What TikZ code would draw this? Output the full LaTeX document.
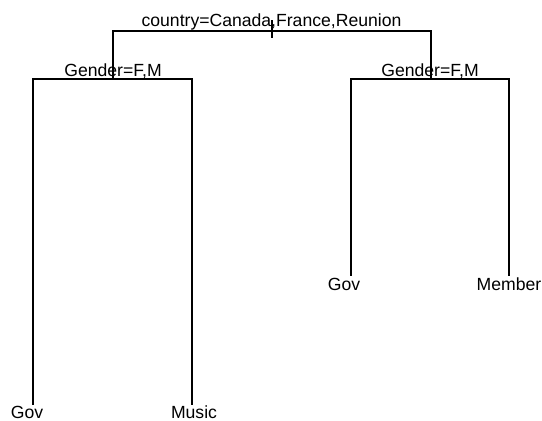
\documentclass[tikz,border=0pt]{standalone}
\usepackage{fontspec}
\setmainfont{Liberation Sans}
\begin{document}
\begin{tikzpicture}[x=1pt,y=-1pt,
  edge/.style={line width=1.3pt, line cap=rect},
  lbl/.style={inner sep=0pt, anchor=base, font=\fontsize{17.6}{17.6}\selectfont}]
\useasboundingbox (0,0) rectangle (542,421);
% split points
\coordinate (tickTop) at (272,21);
\coordinate (tickBot) at (272,37);
\coordinate (rootL) at (113,31);
\coordinate (rootR) at (431,31);
\coordinate (gL) at (113,79);
\coordinate (gR) at (431,79);
\coordinate (gLL) at (33,79);
\coordinate (gLR) at (192,79);
\coordinate (gRL) at (351,79);
\coordinate (gRR) at (509,79);
\coordinate (leafLL) at (33,404);
\coordinate (leafLR) at (192,404);
\coordinate (leafRL) at (351,275);
\coordinate (leafRR) at (509,275);
% labels
\node[lbl] (root) at (271.5,26) {country=Canada,France,Reunion};
\node[lbl] (genL) at (113,76) {Gender=F,M};
\node[lbl] (genR) at (430,76) {Gender=F,M};
\node[lbl] (govL) at (27,418) {Gov};
\node[lbl] (music) at (194,418) {Music};
\node[lbl] (govR) at (344,290) {Gov};
\node[lbl] (member) at (509,290) {Member};
% edges
\draw[edge] (tickTop) -- (tickBot);
\draw[edge] (gL) -- (rootL) -- (rootR) -- (gR);
\draw[edge] (leafLL) -- (gLL) -- (gLR) -- (leafLR);
\draw[edge] (leafRL) -- (gRL) -- (gRR) -- (leafRR);
\end{tikzpicture}
\end{document}
